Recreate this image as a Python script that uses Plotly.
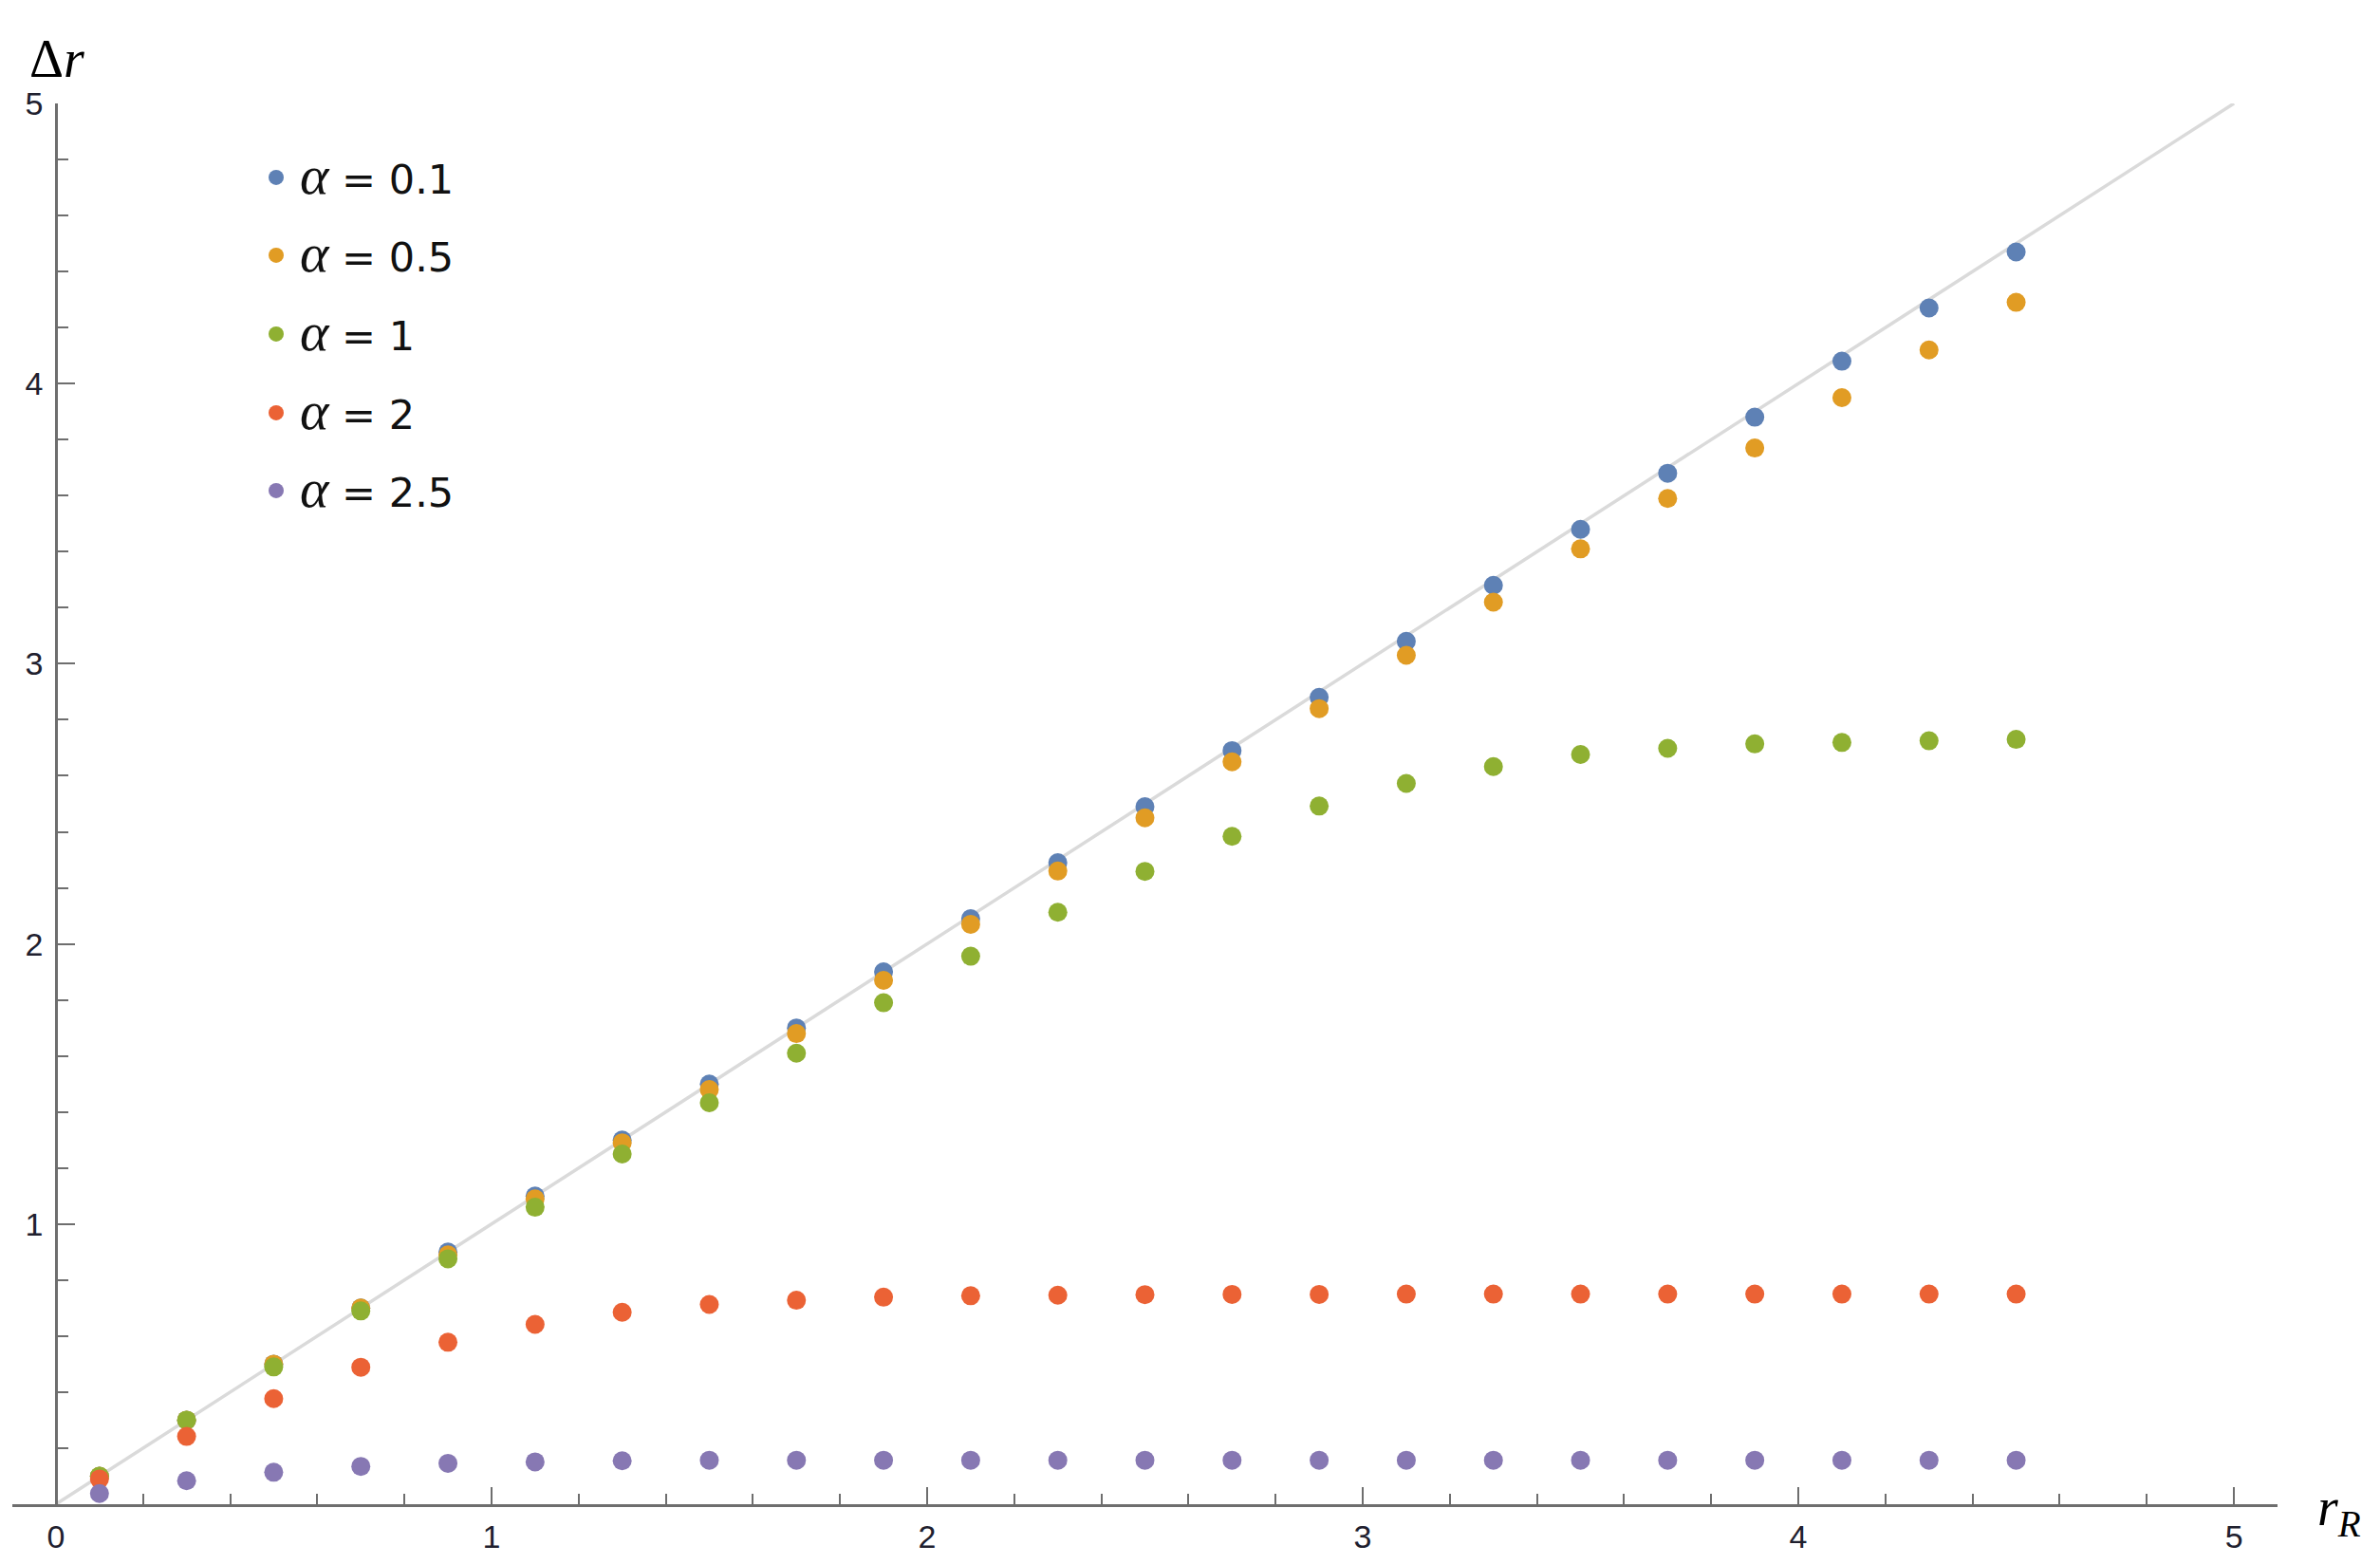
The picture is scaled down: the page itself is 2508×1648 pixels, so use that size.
import plotly.graph_objects as go

r_R = [0.1, 0.3, 0.5, 0.7, 0.9, 1.1, 1.3, 1.5, 1.7, 1.9, 2.1, 2.3,
       2.5, 2.7, 2.9, 3.1, 3.3, 3.5, 3.7, 3.9, 4.1, 4.3, 4.5]

dr_a01 = [0.10, 0.30, 0.50, 0.70, 0.90, 1.10, 1.30, 1.50, 1.70, 1.90, 2.09, 2.29,
          2.49, 2.69, 2.88, 3.08, 3.28, 3.48, 3.68, 3.88, 4.08, 4.27, 4.47]
dr_a05 = [0.10, 0.30, 0.50, 0.70, 0.89, 1.09, 1.29, 1.48, 1.68, 1.87, 2.07, 2.26,
          2.45, 2.65, 2.84, 3.03, 3.22, 3.41, 3.59, 3.77, 3.95, 4.12, 4.29]
dr_a1 = [0.10, 0.30, 0.49, 0.69, 0.876, 1.06, 1.25, 1.433, 1.61, 1.79, 1.956, 2.113,
         2.259, 2.384, 2.492, 2.573, 2.633, 2.676, 2.698, 2.714, 2.719, 2.725, 2.730]
dr_a2 = [0.09, 0.242, 0.377, 0.489, 0.578, 0.642, 0.685, 0.713, 0.728, 0.739, 0.744, 0.746,
         0.748, 0.749, 0.749, 0.75, 0.75, 0.75, 0.75, 0.75, 0.75, 0.75, 0.75]
dr_a25 = [0.038, 0.084, 0.114, 0.135, 0.146, 0.151, 0.155, 0.157, 0.157, 0.157, 0.157, 0.157,
          0.157, 0.157, 0.157, 0.157, 0.157, 0.157, 0.157, 0.157, 0.157, 0.157, 0.157]

series_labels = ["0.1", "0.5", "1", "2", "2.5"]
series_values = [dr_a01, dr_a05, dr_a1, dr_a2, dr_a25]
colors = ["#5E81B5", "#E19C24", "#8FB032", "#EB6235", "#8778B3"]

ref_line = [0, 5]
x_ticks = [0, 1, 2, 3, 4, 5]
y_ticks = [1, 2, 3, 4, 5]

OFF = 8  # page body margin
W, H = 2508 - OFF, 1648 - OFF
ML, MR, MT, MB = 13 - OFF, 108, 109 - OFF, 63
PW, PH = W - ML - MR, H - MT - MB
XR = [-0.1, 5.1]

def px_to_paper_x(px):
    return (px - OFF - ML) / PW

def px_to_paper_y(py):
    return 1 - (py - OFF - MT) / PH

fig = go.Figure()

fig.add_trace(go.Scatter(x=ref_line, y=ref_line, mode="lines",
                         line=dict(color="#DADADA", width=3.5),
                         showlegend=False, hoverinfo="skip", cliponaxis=False))

for lab, vals, col in zip(series_labels, series_values, colors):
    fig.add_trace(go.Scatter(x=r_R, y=vals, mode="markers",
                             marker=dict(color=col, size=20, line=dict(width=0)),
                             showlegend=False, cliponaxis=False))

legend_centers_px = [187, 269, 352, 435, 517]
legend_names = ["legend", "legend2", "legend3", "legend4", "legend5"]
alpha = '<span style="font-family:Liberation Serif;font-size:58px"><i>α</i></span>'
for i, (lab, col) in enumerate(zip(series_labels, colors)):
    fig.add_trace(go.Scatter(x=[None], y=[None], mode="markers",
                             marker=dict(color=col, size=16),
                             name=f"{alpha} = {lab}",
                             legend=legend_names[i], showlegend=True))

legend_common = dict(font=dict(family="DejaVu Sans", size=43, color="#111"),
                     bgcolor="rgba(0,0,0,0)", xanchor="left", yanchor="middle",
                     x=px_to_paper_x(266), itemwidth=40)
layout_legends = {}
for i, name in enumerate(legend_names):
    d = dict(legend_common)
    d["y"] = px_to_paper_y(legend_centers_px[i])
    layout_legends[name] = d

axis_col = "#6E6E6E"
tick_font = dict(family="Liberation Sans, Arial, sans-serif", size=34, color="#20202E")
fig.update_layout(
    width=W, height=H,
    margin=dict(l=ML, r=MR, t=MT, b=MB, pad=0, autoexpand=False),
    paper_bgcolor="white", plot_bgcolor="white",
    showlegend=True,
    xaxis=dict(range=XR, showgrid=False, zeroline=False, automargin=False,
               showline=True, linecolor=axis_col, linewidth=2.5,
               tickmode="array", tickvals=x_ticks,
               ticks="inside", ticklen=18, tickwidth=2, tickcolor=axis_col,
               minor=dict(tickmode="linear", tick0=0, dtick=0.2, ticks="inside",
                          ticklen=11, tickwidth=2, tickcolor=axis_col, showgrid=False),
               tickfont=tick_font, ticklabelstandoff=2),
    yaxis=dict(range=[0, 5], showgrid=False, zeroline=False, automargin=False,
               anchor="free", position=px_to_paper_x(59), side="left",
               showline=True, linecolor=axis_col, linewidth=2.5,
               tickmode="array", tickvals=y_ticks,
               ticks="inside", ticklen=18, tickwidth=2, tickcolor=axis_col,
               minor=dict(tickmode="linear", tick0=0, dtick=0.2, ticks="inside",
                          ticklen=11, tickwidth=2, tickcolor=axis_col, showgrid=False),
               tickfont=tick_font, ticklabelstandoff=6),
    annotations=[
        dict(text="Δ<i>r</i>", xref="paper", yref="paper",
             x=px_to_paper_x(60), y=px_to_paper_y(62), xanchor="center", yanchor="middle",
             showarrow=False, font=dict(family="Liberation Serif", size=56, color="black")),
        dict(text="<i>r</i><sub><i>R</i></sub>", xref="paper", yref="paper",
             x=px_to_paper_x(2465), y=px_to_paper_y(1592), xanchor="center", yanchor="middle",
             showarrow=False, font=dict(family="Liberation Serif", size=56, color="black")),
    ],
    **layout_legends,
)

fig.write_html("out.html")
